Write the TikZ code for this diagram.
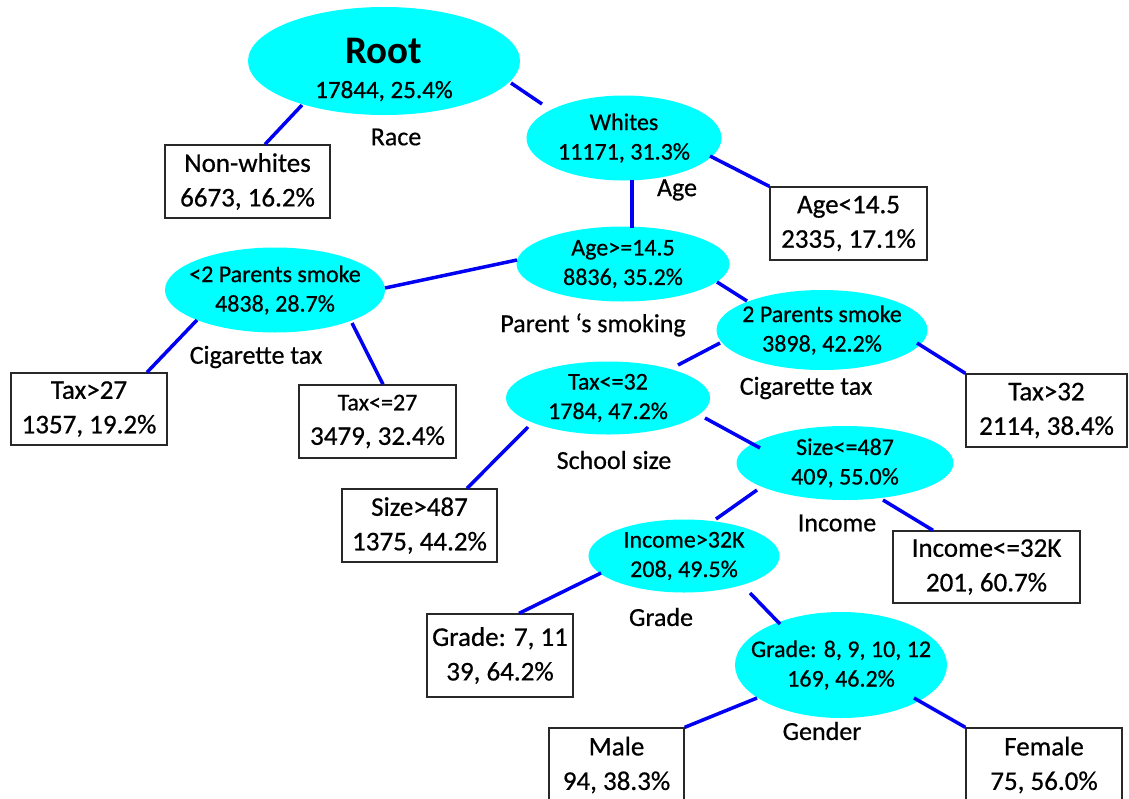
\documentclass[tikz,border=0pt]{standalone}
\usepackage{fontspec}
\setmainfont{Carlito}[UprightFeatures={FakeBold=0.6}]
\usetikzlibrary{shapes.geometric,calc}
\definecolor{nodecyan}{RGB}{0,255,255}
\definecolor{linkblue}{RGB}{0,0,245}
\definecolor{boxline}{RGB}{40,40,40}
\begin{document}
\begin{tikzpicture}[x=1pt,y=-1pt,
  ell/.style={ellipse, fill=nodecyan, draw=none, inner xsep=-60pt, inner ysep=-25pt, align=center,
    font=\fontsize{24}{29.5}\selectfont},
  boxnode/.style={rectangle, draw=boxline, line width=1.3pt, fill=white, inner sep=0pt,
    align=center, font=\fontsize{27}{34.5}\selectfont},
  link/.style={draw=linkblue, line width=3.5pt},
  lbl/.style={font=\fontsize{26}{30}\selectfont, inner sep=0pt}]
\fill[white] (0,0) rectangle (1129,798);
\clip (0,0) rectangle (1129,798);

% ellipses
\node[ell, minimum width=272pt, minimum height=108pt] (root) at (384,61) {};
\node[inner sep=0pt, align=center, font=\fontsize{25}{35}\selectfont] (roottext) at (384,69.5)
  {{\fontsize{39}{35}\selectfont\bfseries Root}\\17844, 25.4\%};
\node[ell, minimum width=195pt, minimum height=85pt] (whites) at (624,138) {Whites\\11171, 31.3\%};
\node[ell, minimum width=213pt, minimum height=75pt] (agege) at (623,264) {Age>=14.5\\8836, 35.2\%};
\node[ell, minimum width=220pt, minimum height=85pt] (lt2) at (275,290) {<2 Parents smoke\\4838, 28.7\%};
\node[ell, minimum width=211pt, minimum height=80pt] (twop) at (822,330) {2 Parents smoke\\3898, 42.2\%};
\node[ell, minimum width=204pt, minimum height=73pt] (taxle32) at (608,398) {Tax<=32\\1784, 47.2\%};
\node[ell, minimum width=217pt, minimum height=74pt] (sizele) at (845,463) {Size<=487\\409, 55.0\%};
\node[ell, minimum width=191pt, minimum height=73pt] (incgt) at (684,556) {Income>32K\\208, 49.5\%};
\node[ell, minimum width=212pt, minimum height=106pt] (grade8) at (841,665) {Grade: 8, 9, 10, 12\\169, 46.2\%};

% boxes
\node[boxnode, minimum width=165pt, minimum height=73pt] (nonwhites) at (247.5,181.5) {Non-whites\\6673, 16.2\%};
\node[boxnode, minimum width=157pt, minimum height=73pt] (agelt) at (848.5,223.5) {Age<14.5\\2335, 17.1\%};
\node[boxnode, minimum width=156pt, minimum height=72pt] (taxgt27) at (89,409) {Tax>27\\1357, 19.2\%};
\node[boxnode, minimum width=157pt, minimum height=73pt] (taxle27) at (377.5,421.5) {{\fontsize{24}{34.5}\selectfont Tax<=27}\\3479, 32.4\%};
\node[boxnode, minimum width=161pt, minimum height=73pt] (taxgt32) at (1046.5,410.5) {Tax>32\\2114, 38.4\%};
\node[boxnode, minimum width=155pt, minimum height=73pt] (sizegt) at (419.5,525.5) {Size>487\\1375, 44.2\%};
\node[boxnode, minimum width=187pt, minimum height=72pt] (incle) at (986.5,567) {Income<=32K\\201, 60.7\%};
\node[boxnode, minimum width=146pt, minimum height=83pt] (grade7) at (500,655.5) {Grade: 7, 11\\39, 64.2\%};
\node[boxnode, minimum width=135pt, minimum height=74pt] (male) at (616.5,765) {Male\\94, 38.3\%};
\node[boxnode, minimum width=156pt, minimum height=74pt] (female) at (1044,765) {Female\\75, 56.0\%};

% connectors
\draw[link] ($(root)+(127,22)$) -- ($(whites)+(-82,-34)$);
\draw[link] ($(root)+(-82,44)$) -- ($(nonwhites.north)+(17.5,0)$);
\draw[link] ($(whites)+(86,18)$) -- (agelt.north west);
\draw[link] ($(whites)+(8,42)$) -- ($(agege)+(9,-36)$);
\draw[link] ($(agege)+(-106,-4)$) -- ($(lt2)+(110,-2)$);
\draw[link] ($(agege)+(94,18)$) -- ($(twop)+(-75,-29)$);
\draw[link] ($(lt2)+(-78,30)$) -- ($(taxgt27.north)+(58,0)$);
\draw[link] ($(lt2)+(77,33)$) -- ($(taxle27.north)+(5.5,0)$);
\draw[link] ($(twop)+(-102,13)$) -- ($(taxle32)+(70,-33)$);
\draw[link] ($(twop)+(95,13)$) -- (taxgt32.north west);
\draw[link] ($(taxle32)+(-80,29)$) -- ($(sizegt.north)+(47.5,0)$);
\draw[link] ($(taxle32)+(97,20)$) -- ($(sizele)+(-85,-15)$);
\draw[link] ($(sizele)+(-88,27)$) -- ($(incgt)+(32,-37)$);
\draw[link] ($(sizele)+(38,37)$) -- ($(incle.north)+(-53.5,0)$);
\draw[link] ($(incgt)+(-83,17)$) -- ($(grade7.north)+(19,0)$);
\draw[link] ($(incgt)+(66,37)$) -- ($(grade8)+(-61,-41)$);
\draw[link] ($(grade8)+(-84,33)$) -- (male.north east);
\draw[link] ($(grade8)+(73,33)$) -- (female.north west);

% split labels
\node[lbl] (lrace) at (396,137) {Race};
\node[lbl] (lage) at (677,190) {Age};
\node[lbl] (lparent) at (593,325) {Parent ‘s smoking};
\node[lbl] (lcig1) at (256,357) {Cigarette tax};
\node[lbl] (lcig2) at (806,388) {Cigarette tax};
\node[lbl] (lschool) at (614,460) {School size};
\node[lbl] (lincome) at (837,523) {Income};
\node[lbl] (lgrade) at (661,617) {Grade};
\node[lbl] (lgender) at (822,731) {Gender};
\end{tikzpicture}
\end{document}
